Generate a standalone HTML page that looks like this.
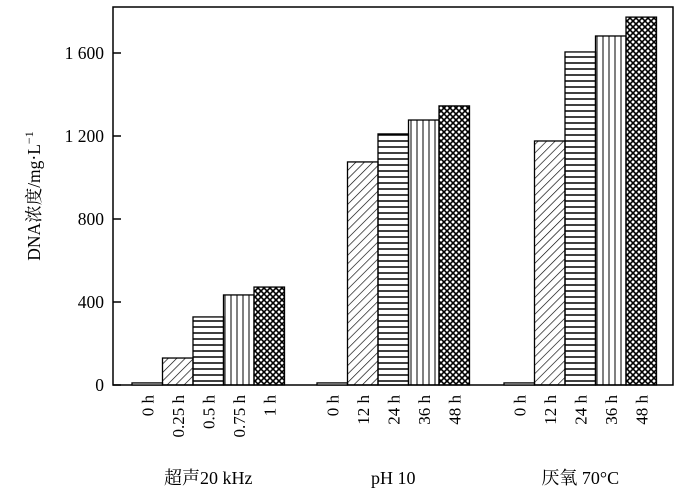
<!DOCTYPE html>
<html><head><meta charset="utf-8"><style>body{margin:0;background:#fff}svg{display:block;font-family:"Liberation Serif","Noto Serif CJK SC","Noto Sans CJK SC",serif}</style></head>
<body>
<svg id="c" width="700" height="498" viewBox="0 0 700 498">
<defs>
<pattern id="p1" width="6" height="6" patternUnits="userSpaceOnUse" patternTransform="rotate(45)"><line x1="0" y1="0" x2="0" y2="6" stroke="#000" stroke-width="1.3"/></pattern>
<pattern id="p2" width="6" height="6" patternUnits="userSpaceOnUse"><line x1="0" y1="3" x2="6" y2="3" stroke="#000" stroke-width="1.5"/></pattern>
<pattern id="p3" width="6" height="6" patternUnits="userSpaceOnUse"><line x1="3" y1="0" x2="3" y2="6" stroke="#000" stroke-width="1"/></pattern>
<pattern id="p4" width="6" height="6" patternUnits="userSpaceOnUse"><path d="M0,0L6,6M6,0L0,6" stroke="#000" stroke-width="1.6"/></pattern>
</defs>
<rect x="113" y="7" width="560" height="378" fill="none" stroke="#000" stroke-width="1.5"/>
<g id="bars"></g><g id="axis"></g>
</svg>
<script>
const groups=["超声20 kHz","pH 10","厌氧 70°C"];
const timeLabels=[["0 h","0.25 h","0.5 h","0.75 h","1 h"],["0 h","12 h","24 h","36 h","48 h"],["0 h","12 h","24 h","36 h","48 h"]];
const values1=[10,130,328,434,472];
const values2=[10,1075,1210,1277,1345];
const values3=[10,1176,1605,1682,1773];
const ticks=[0,400,800,1200,1600];
const tickLabels=["0","400","800","1 200","1 600"];
const series=[values1,values2,values3];
const NS="http://www.w3.org/2000/svg";
const y=v=>385-v*83/400;
const groupStart=[132,317,504], bw=30.5;
const fills=["none","url(#p1)","url(#p2)","url(#p3)","url(#p4)"];
const bars=document.getElementById('bars'), ax=document.getElementById('axis');
function mk(t,a,p){const e=document.createElementNS(NS,t);for(const k in a)e.setAttribute(k,a[k]);p.appendChild(e);return e;}
series.forEach((vals,g)=>{
  vals.forEach((v,i)=>{
    const x=groupStart[g]+i*bw;
    const r=mk('rect',{x:x,y:y(v),width:bw,height:385-y(v),fill:fills[i]==="none"?"#fff":fills[i],stroke:"#000","stroke-width":1.3},bars);
    
    
    const t=mk('text',{transform:`translate(${x+bw/2+6},395) rotate(-90)`,"text-anchor":"end","font-size":17},ax);
    t.textContent=timeLabels[g][i];
    
    
  });
  const gl=mk('text',{x:groupStart[g]+bw*2.5,y:484,"text-anchor":"middle","font-size":18},ax);
  gl.textContent=groups[g];
  
  
});
ticks.forEach((v,i)=>{
  const l=mk('line',{x1:113,x2:121,y1:y(v),y2:y(v),stroke:"#000","stroke-width":1.5},ax);
  
  
  const t=mk('text',{x:104,y:y(v)+6,"text-anchor":"end","font-size":17.5},ax);
  t.textContent=tickLabels[i];
  
  
});
const yt=mk('text',{transform:"translate(40,196) rotate(-90)","text-anchor":"middle","font-size":17.5},ax);
yt.innerHTML='DNA浓度/mg·L<tspan dy="-7" font-size="12">−1</tspan>';


</script>
</body></html>
